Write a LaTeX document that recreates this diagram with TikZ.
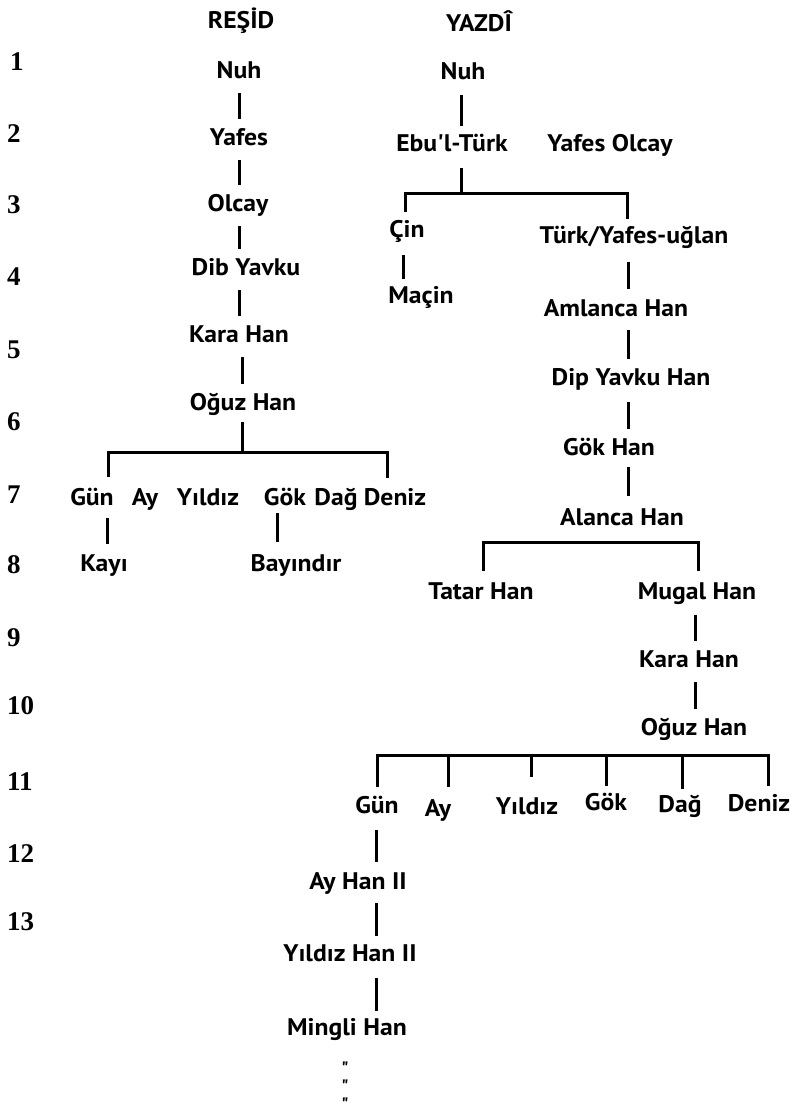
\documentclass[tikz,border=0pt]{standalone}
\usepackage{fontspec}
\setmainfont{PT Sans}[FakeStretch=1.07,Ligatures=TeXOff]
\newfontfamily\numfont{Liberation Serif}
\newfontfamily\dfont{PT Sans}[Ligatures=TeXOff]
\begin{document}
\begin{tikzpicture}[x=1pt,y=-1pt,
  lbl/.style={font=\bfseries\fontsize{24}{28}\selectfont, inner sep=0pt, text height=17pt, text depth=0pt, anchor=base},
  num/.style={font=\numfont\bfseries\fontsize{27}{30}\selectfont, inner sep=0pt, anchor=base west},
  link/.style={line width=3pt, shorten <=15pt, shorten >=9pt},
  bar/.style={line width=3pt},
  ditto/.style={font=\dfont\bfseries\fontsize{18}{20}\selectfont, inner sep=0pt, text height=5pt, text depth=0pt, anchor=center}]
\fill[white] (0,0) rectangle (801,1117);
\useasboundingbox (0,0) rectangle (801,1117);
% row numbers
\node[num] (n1) at (10,70) {1};
\node[num] (n2) at (7,142) {2};
\node[num] (n3) at (7,213) {3};
\node[num] (n4) at (7,285) {4};
\node[num] (n5) at (7,358) {5};
\node[num] (n6) at (7,430) {6};
\node[num] (n7) at (7,503) {7};
\node[num] (n8) at (7,573) {8};
\node[num] (n9) at (7,646) {9};
\node[num] (n10) at (7,714) {10};
\node[num] (n11) at (7,790) {11};
\node[num] (n12) at (7,862) {12};
\node[num] (n13) at (7,930) {13};
% column coordinates
\coordinate (cL1) at (239,0);
\coordinate (cL2) at (242,0);
\coordinate (cKayi) at (107,0);
\coordinate (cBay) at (277,0);
\coordinate (cR1) at (461,0);
\coordinate (cCin) at (403,0);
\coordinate (cR2) at (628,0);
\coordinate (cR3) at (695,0);
\coordinate (cR4) at (376,0);
% ---------------- RESID ----------------
\node[lbl] (hR) at (241,28) {REŞİD};
\node[lbl] (lNuh) at (239,78) {Nuh};
\node[lbl] (lYafes) at (239,145) {Yafes};
\node[lbl] (lOlcay) at (238,211) {Olcay};
\node[lbl] (lDib) at (246,275) {Dib Yavku};
\node[lbl] (lKara) at (239,342) {Kara Han};
\node[lbl] (lOguz) at (243,410) {Oğuz Han};
\node[lbl] (lGun) at (92,505) {Gün};
\node[lbl] (lAy) at (145,505) {Ay};
\node[lbl] (lYil) at (208,505) {Yıldız};
\node[lbl] (lGok) at (285,505) {Gök};
\node[lbl] (lDag) at (336,505) {Dağ};
\node[lbl] (lDeniz) at (395,505) {Deniz};
\node[lbl] (lKayi) at (104,571) {Kayı};
\node[lbl] (lBay) at (296,571) {Bayındır};
\draw[link] (cL1 |- lNuh.south) -- (cL1 |- lYafes.north);
\draw[link] (cL1 |- lYafes.south) -- (cL1 |- lOlcay.north);
\draw[link] (cL1 |- lOlcay.south) -- (cL1 |- lDib.north);
\draw[link] (cL1 |- lDib.south) -- (cL1 |- lKara.north);
\draw[link] (cL2 |- lKara.south) -- (cL2 |- lOguz.north);
\coordinate (lbar) at (242,452);
\coordinate (lbL) at (108,452);
\coordinate (lbR) at (387,452);
\draw[link, shorten <=12pt, shorten >=0pt] (cL2 |- lOguz.south) -- (lbar);
\draw[bar, shorten <=11pt, shorten >=10pt] (lbL |- lGun.north) -- (lbL) -- (lbR) -- (lbR |- lDeniz.north);
\draw[link, shorten <=13pt, shorten >=10pt] (cKayi |- lGun.south) -- (cKayi |- lKayi.north);
\draw[link, shorten <=8pt, shorten >=12pt] (cBay |- lGok.south) -- (cBay |- lBay.north);
% ---------------- YAZDI ----------------
\node[lbl] (hY) at (479,31) {YAZDÎ};
\node[lbl] (rNuh) at (463,79) {Nuh};
\node[lbl] (rEbu) at (452,151) {Ebu'l-Türk};
\node[lbl] (rYO) at (610,151) {Yafes Olcay};
\node[lbl] (rCin) at (407,237) {Çin};
\node[lbl] (rTurk) at (634,243) {Türk/Yafes-uğlan};
\node[lbl] (rMacin) at (421,303) {Maçin};
\node[lbl] (rAml) at (616,316) {Amlanca Han};
\node[lbl] (rDip) at (631,385) {Dip Yavku Han};
\node[lbl] (rGokH) at (609,455) {Gök Han};
\node[lbl] (rAlanca) at (622,525) {Alanca Han};
\node[lbl] (rTatar) at (481,599) {Tatar Han};
\node[lbl] (rMugal) at (697,599) {Mugal Han};
\node[lbl] (rKara) at (689,667) {Kara Han};
\node[lbl] (rOguz) at (694,735) {Oğuz Han};
\node[lbl] (rGun) at (377,813) {Gün};
\node[lbl] (rAy) at (438,816) {Ay};
\node[lbl] (rYil) at (527,814) {Yıldız};
\node[lbl] (rGok) at (606,810) {Gök};
\node[lbl] (rDag) at (680,812) {Dağ};
\node[lbl] (rDeniz) at (759,811) {Deniz};
\node[lbl] (rAyII) at (358,889) {Ay Han II};
\node[lbl] (rYilII) at (350,961) {Yıldız Han II};
\node[lbl] (rMingli) at (347,1035) {Mingli Han};
\node[ditto] (d1) at (345,1072) {"};
\node[ditto] (d2) at (345,1090) {"};
\node[ditto] (d3) at (345,1108) {"};
\draw[link, shorten <=16pt, shorten >=8pt] (cR1 |- rNuh.south) -- (cR1 |- rEbu.north);
\coordinate (rb1) at (461,193);
\coordinate (rb1L) at (405,193);
\coordinate (rb1R) at (627,193);
\draw[link, shorten <=17pt, shorten >=0pt] (cR1 |- rEbu.south) -- (rb1);
\draw[bar, shorten <=8pt, shorten >=7pt] (rb1L |- rCin.north) -- (rb1L) -- (rb1R) -- (rb1R |- rTurk.north);
\draw[link, shorten <=18pt, shorten >=7pt] (cCin |- rCin.south) -- (cCin |- rMacin.north);
\draw[link, shorten <=19pt, shorten >=10pt] (cR2 |- rTurk.south) -- (cR2 |- rAml.north);
\draw[link, shorten <=14pt, shorten >=9pt] (cR2 |- rAml.south) -- (cR2 |- rDip.north);
\draw[link, shorten <=17pt, shorten >=9pt] (cR2 |- rDip.south) -- (cR2 |- rGokH.north);
\draw[link, shorten <=12pt, shorten >=12pt] (cR2 |- rGokH.south) -- (cR2 |- rAlanca.north);
\coordinate (rb2L) at (483,542);
\coordinate (rb2R) at (698,542);
\draw[bar, shorten <=11pt, shorten >=11pt] (rb2L |- rTatar.north) -- (rb2L) -- (rb2R) -- (rb2R |- rMugal.north);
\draw[link, shorten <=16pt, shorten >=9pt] (cR3 |- rMugal.south) -- (cR3 |- rKara.north);
\draw[link, shorten <=15pt, shorten >=9pt] (cR3 |- rKara.south) -- (cR3 |- rOguz.north);
\coordinate (b3a) at (377,755);
\coordinate (b3b) at (448,755);
\coordinate (b3c) at (531,755);
\coordinate (b3d) at (606,755);
\coordinate (b3e) at (682,755);
\coordinate (b3f) at (768,755);
\draw[bar, shorten <=9pt, shorten >=8pt] (b3a |- rGun.north) -- (b3a) -- (b3f) -- (b3f |- rDeniz.north);
\draw[bar, shorten >=12pt] (b3b) -- (b3b |- rAy.north);
\draw[bar, shorten >=20pt] (b3c) -- (b3c |- rYil.north);
\draw[bar, shorten >=7pt] (b3d) -- (b3d |- rGok.north);
\draw[bar, shorten >=6pt] (b3e) -- (b3e |- rDag.north);
\draw[bar, shorten >=8pt] (b3f) -- (b3f |- rDeniz.north);
\draw[link, shorten <=17pt, shorten >=10pt] (cR4 |- rGun.south) -- (cR4 |- rAyII.north);
\draw[link, shorten <=14pt, shorten >=8pt] (cR4 |- rAyII.south) -- (cR4 |- rYilII.north);
\draw[link, shorten <=17pt, shorten >=7pt] (cR4 |- rYilII.south) -- (cR4 |- rMingli.north);
\end{tikzpicture}
\end{document}
